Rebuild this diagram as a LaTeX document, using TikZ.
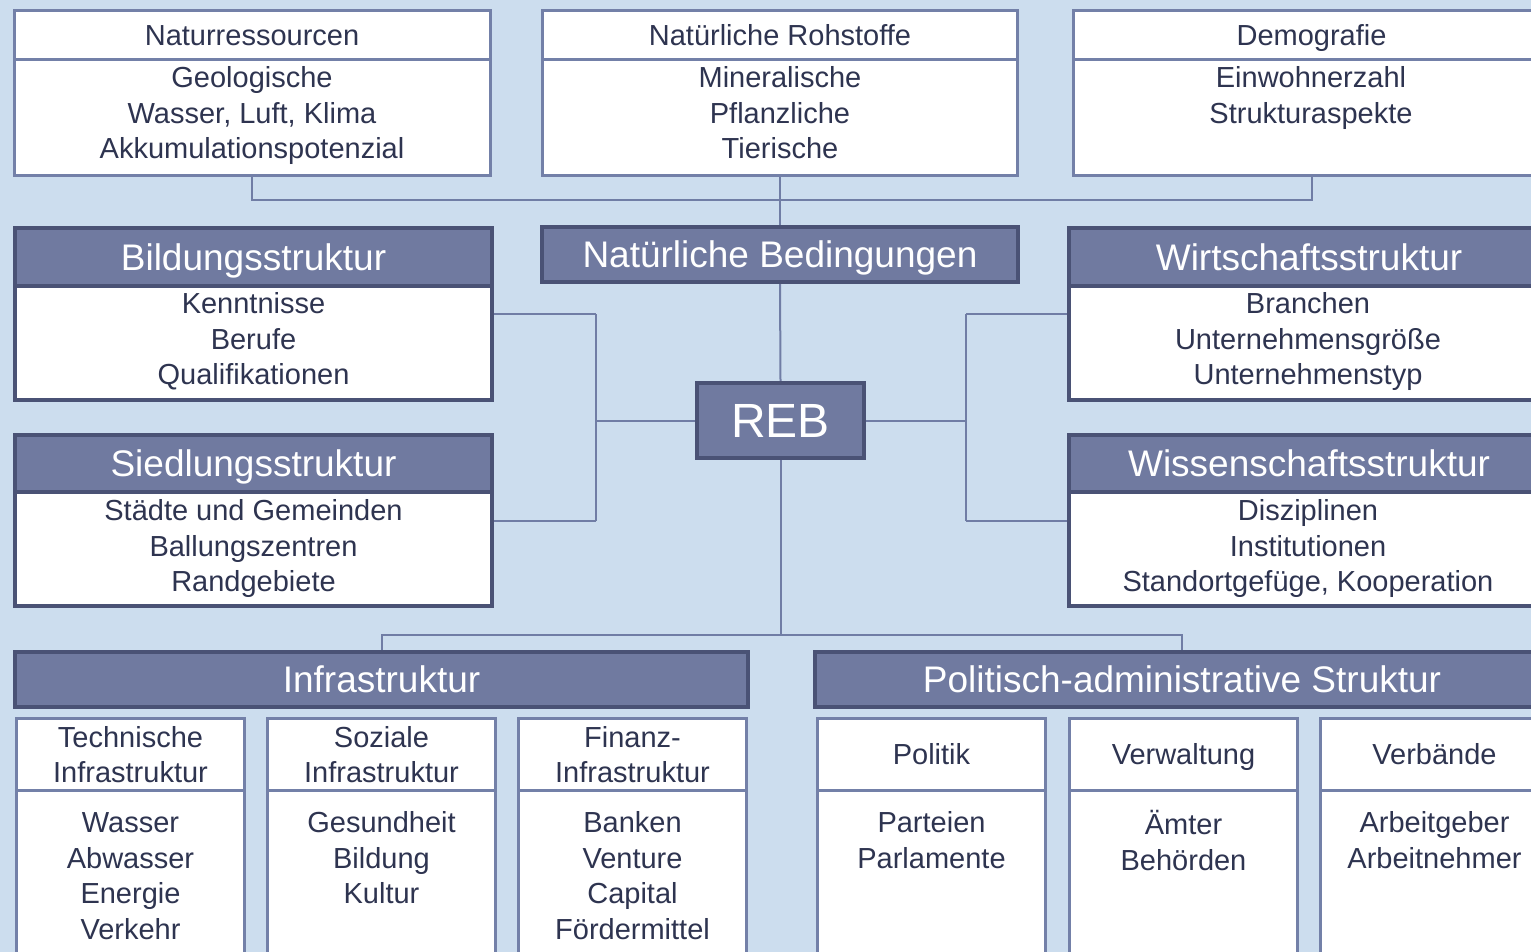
\documentclass[tikz,border=0pt]{standalone}
\usepackage{fontspec}
\setmainfont{Liberation Sans}
\pgfdeclarelayer{bglayer}
\pgfdeclarelayer{connlayer}
\pgfsetlayers{bglayer,connlayer,main}
\definecolor{bgc}{RGB}{204,221,238}
\definecolor{hdrfill}{RGB}{112,122,160}
\definecolor{darkb}{RGB}{74,82,117}
\definecolor{lightb}{RGB}{115,128,168}
\definecolor{conncol}{RGB}{112,125,165}
\definecolor{txtc}{RGB}{46,52,80}
\newcommand\fbody{\fontsize{29}{35.5}\selectfont}
\newcommand\fhead{\fontsize{37}{44}\selectfont}
\newcommand\freb{\fontsize{48}{56}\selectfont}
\tikzset{
  hdr/.style={draw=darkb, fill=hdrfill, line width=4pt, text=white, font=\fhead, inner sep=0pt, text height=26.5pt, text depth=0pt},
  dbody/.style={draw=darkb, fill=white, line width=4pt, inner sep=0pt},
  lbox/.style={draw=lightb, fill=white, line width=3pt, inner sep=0pt, text=txtc, font=\fbody, align=center},
  capc/.style={text height=#1, text depth=0pt},
  conn/.style={draw=conncol, line width=2pt},
  txt/.style={anchor=north, inner sep=0pt, text=txtc, font=\fbody, align=center}
}
\begin{document}
\begin{tikzpicture}[x=1pt,y=-1pt]
\useasboundingbox (0,0) rectangle (1531,952);
\begin{pgfonlayer}{bglayer}
\fill[bgc] (0,0) rectangle (1531,952);
\end{pgfonlayer}
\clip (0,0) rectangle (1531,952);

% top boxes
\node[lbox, capc=21pt, minimum width=476pt, minimum height=49.5pt] (h1) at (252,35.25) {Naturressourcen};
\node[lbox, minimum width=476pt, minimum height=115.5pt] (b1) at (252,117.75) {};
\node[txt] (t1) at (252,62.5) {\strut Geologische\\Wasser, Luft, Klima\\Akkumulationspotenzial};
\node[lbox, capc=21pt, minimum width=475pt, minimum height=49.5pt] (h2) at (780,35.25) {Natürliche Rohstoffe};
\node[lbox, minimum width=475pt, minimum height=115.5pt] (b2) at (780,117.75) {};
\node[txt] (t2) at (780,62.5) {\strut Mineralische\\Pflanzliche\\Tierische};
\node[lbox, capc=21pt, minimum width=476pt, minimum height=49.5pt] (h3) at (1311.5,35.25) {Demografie};
\node[lbox, minimum width=476pt, minimum height=115.5pt] (b3) at (1311.5,117.75) {};
\node[txt] (t3) at (1311,62.5) {\strut Einwohnerzahl\\Strukturaspekte};

% middle
\node[hdr, minimum width=476pt, minimum height=55pt] (nb) at (780,254.5) {Natürliche Bedingungen};
\node[hdr, minimum width=167pt, minimum height=75pt, font=\freb, text height=34.4pt] (reb) at (780.5,420.5) {REB};

\node[dbody, minimum width=477pt, minimum height=114pt] (bb) at (253.5,343) {};
\node[hdr, minimum width=477pt, minimum height=58pt] (bh) at (253.5,257) {Bildungsstruktur};
\node[txt] (tb) at (253.5,288.5) {\strut Kenntnisse\\Berufe\\Qualifikationen};

\node[dbody, minimum width=477pt, minimum height=114pt] (sb) at (253.5,549) {};
\node[hdr, minimum width=477pt, minimum height=57pt] (sh) at (253.5,463.5) {Siedlungsstruktur};
\node[txt] (ts) at (253.5,495.5) {\strut Städte und Gemeinden\\Ballungszentren\\Randgebiete};

\node[dbody, minimum width=480pt, minimum height=114pt] (wb) at (1309,343) {};
\node[hdr, minimum width=480pt, minimum height=58pt] (wh) at (1309,257) {Wirtschaftsstruktur};
\node[txt] (tw) at (1308,288.5) {\strut Branchen\\Unternehmensgröße\\Unternehmenstyp};

\node[dbody, minimum width=480pt, minimum height=114pt] (wib) at (1309,549) {};
\node[hdr, minimum width=480pt, minimum height=57pt] (wih) at (1309,463.5) {Wissenschaftsstruktur};
\node[txt] (twi) at (1308,495.5) {\strut Disziplinen\\Institutionen\\Standortgefüge, Kooperation};

% bottom headers
\node[hdr, minimum width=733pt, minimum height=55pt] (ih) at (381.5,679.5) {Infrastruktur};
\node[hdr, minimum width=734pt, minimum height=55pt] (ph) at (1182,679.5) {Politisch-administrative Struktur};

% sub boxes
\foreach \nm/\cx/\hd/\th/\bd/\ty in {
  s1/130.5/{Technische\\Infrastruktur}/56.5pt/{\strut Wasser\\Abwasser\\Energie\\Verkehr}/807.5,
  s2/381.5/{Soziale\\Infrastruktur}/56.5pt/{\strut Gesundheit\\Bildung\\Kultur}/807.5,
  s3/632.5/{Finanz-\\Infrastruktur}/56.5pt/{\strut Banken\\Venture\\Capital\\Fördermittel}/807.5,
  s4/931.5/{Politik}/21pt/{\strut Parteien\\Parlamente}/807.5,
  s5/1183.5/{Verwaltung}/21pt/{\strut Ämter\\Behörden}/809.5,
  s6/1434.5/{Verbände}/21pt/{\strut Arbeitgeber\\Arbeitnehmer}/807.5}{
  \node[lbox, minimum width=228pt, minimum height=190pt] (\nm b) at (\cx,885) {};
  \node[lbox, capc=\th, minimum width=228pt, minimum height=71.5pt] (\nm h) at (\cx,754.25) {\hd};
  \node[txt] (\nm t) at (\cx,\ty) {\bd};
}

% connectors
\coordinate (hub) at (780,200);
\coordinate (lt) at (596,314);
\coordinate (lj) at (596,420.5);
\coordinate (lb) at (596,521);
\coordinate (rt) at (966,314);
\coordinate (rj) at (966,420.5);
\coordinate (rb) at (966,521);
\coordinate (bj) at (780.5,635);
\begin{pgfonlayer}{connlayer}
\draw[conn] (b1.south) |- (hub);
\draw[conn] (b3.south) |- (hub);
\draw[conn] (b2.south) -- (nb.north);
\draw[conn] (nb.south) -- (reb.north);
\draw[conn] (reb.west) -- (lj);
\draw[conn] (lt) -- (lb);
\draw[conn] (lt) -- (bb.east |- lt);
\draw[conn] (lb) -- (sb.east |- lb);
\draw[conn] (reb.east) -- (rj);
\draw[conn] (rt) -- (rb);
\draw[conn] (rt) -- (wb.west |- rt);
\draw[conn] (rb) -- (wib.west |- rb);
\draw[conn] (reb.south) -- (bj);
\draw[conn] (bj) -| (ih.north);
\draw[conn] (bj) -| (ph.north);
\end{pgfonlayer}
\end{tikzpicture}
\end{document}
